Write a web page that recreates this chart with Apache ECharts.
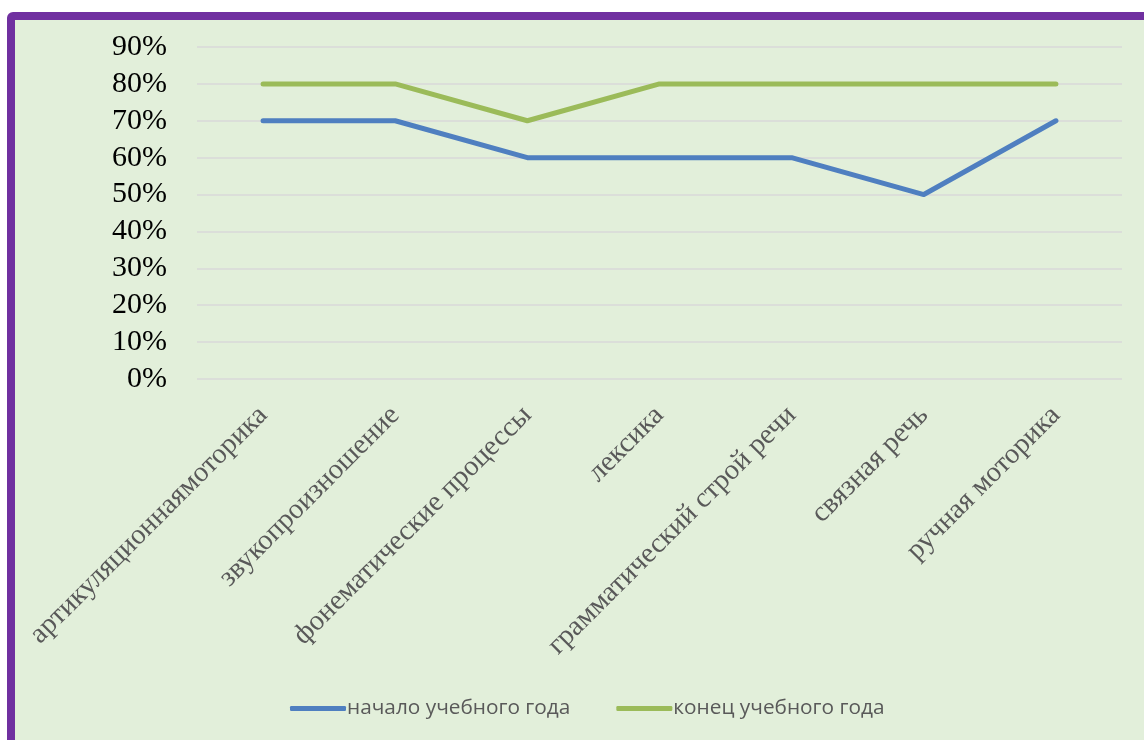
<!DOCTYPE html>
<html>
<head>
<meta charset="utf-8">
<script src="https://cdn.jsdelivr.net/npm/echarts@6/dist/echarts.min.js"></script>
<style>
  html, body { margin: 0; padding: 0; background: #fff; overflow: hidden; }
  #frame {
    position: absolute; left: 7px; top: 12px; width: 1200px; height: 800px;
    border: 8px solid #7030A0; border-radius: 6px; background: #E2EFDA;
  }
  #chart { position: absolute; left: 0; top: 0; width: 1144px; height: 740px; }
</style>
</head>
<body>
<div id="frame"></div>
<div id="chart"></div>
<script>
// категории речевого развития
var categories = [
  "артикуляционнаямоторика",
  "звукопроизношение",
  "фонематические процессы",
  "лексика",
  "грамматический строй речи",
  "связная речь",
  "ручная моторика"
];
var seriesNames = ["начало учебного года", "конец учебного года"];
var startYear = [70, 70, 60, 60, 60, 50, 70];
var endYear = [80, 80, 70, 80, 80, 80, 80];

var myChart = echarts.init(document.getElementById("chart"));
var option = {
  backgroundColor: "transparent",
  animation: false,
  color: ["#4F7FC0", "#9BBB59"],
  grid: { left: 197, right: 22, top: 47, height: 332, containLabel: false },
  legend: {
    top: 693,
    left: 285,
    itemWidth: 56,
    itemHeight: 5,
    itemGap: 46,
    icon: "roundRect",
    textStyle: { fontFamily: "Open Sans", fontSize: 20.8, color: "#595959", padding: [0, 0, 0, -4] },
    data: seriesNames
  },
  xAxis: {
    type: "category",
    data: categories,
    boundaryGap: true,
    axisLine: { show: false },
    axisTick: { show: false },
    axisLabel: {
      rotate: 45,
      margin: 32,
      interval: 0,
      fontFamily: "Liberation Serif",
      fontSize: 28.5,
      color: "#595959"
    }
  },
  yAxis: {
    type: "value",
    min: 0,
    max: 90,
    interval: 10,
    axisLine: { show: false },
    axisTick: { show: false },
    splitLine: { lineStyle: { color: "#D9D9D9", width: 1.5 } },
    axisLabel: {
      formatter: "{value}%",
      margin: 30,
      fontFamily: "Liberation Serif",
      fontSize: 30,
      color: "#000"
    }
  },
  series: [
    {
      name: seriesNames[0],
      type: "line",
      data: startYear,
      symbol: "none",
      lineStyle: { width: 5, cap: "round", join: "round" }
    },
    {
      name: seriesNames[1],
      type: "line",
      data: endYear,
      symbol: "none",
      lineStyle: { width: 5, cap: "round", join: "round" }
    }
  ]
};
myChart.setOption(option);
</script>
</body>
</html>
